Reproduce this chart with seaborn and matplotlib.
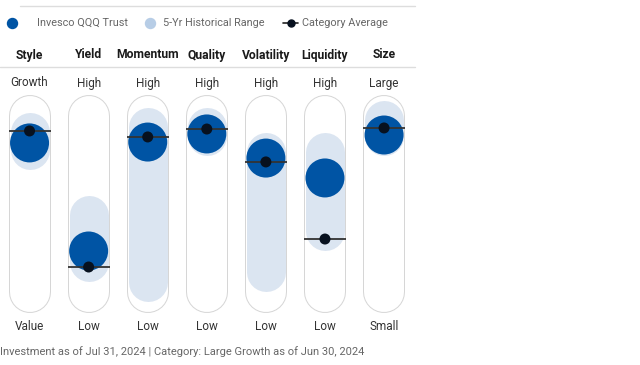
import numpy as np
import pandas as pd
import matplotlib.pyplot as plt
import seaborn as sns

# factor profile values (0 = bottom label, 100 = top label)
factors = ["Style", "Yield", "Momentum", "Quality", "Volatility", "Liquidity", "Size"]
top_labels = ["Growth", "High", "High", "High", "High", "High", "Large"]
bottom_labels = ["Value", "Low", "Low", "Low", "Low", "Low", "Small"]
fund = [84.7, 23.3, 85.2, 89.8, 76.1, 64.8, 89.2]
category = [91.5, 14.2, 88.1, 92.6, 73.9, 30.1, 93.2]
range_low = [80.7, 16.8, 5.4, 88.9, 11.6, 34.9, 88.9]
range_high = [90.9, 44.0, 94.0, 94.0, 79.8, 79.8, 98.0]

df = pd.DataFrame({"factor": factors, "x": range(len(factors)), "fund": fund, "category": category})

sns.set_style("white")
plt.rcParams["font.family"] = ["Roboto", "DejaVu Sans"]

W, H = 640, 365
fig = plt.figure(figsize=(W / 100, H / 100), dpi=100)
pt = 72 / 100  # points per pixel

# axes: x = factor index, y = score (0 at px 292, 100 at px 116)
ax = fig.add_axes([0, (H - 292) / H, 413.6 / W, 176 / H])
ax.set_xlim(-0.5, 6.5)
ax.set_ylim(0, 100)
ax.axis("off")

blue = "#0054a4"
light = "#dbe5f1"
dark = "#07111f"

for i in range(len(factors)):
    # track outline
    ax.plot([i, i], [0, 100], color="#d6d6d6", lw=42 * pt, solid_capstyle="round",
            zorder=1, clip_on=False)
    ax.plot([i, i], [0, 100], color="white", lw=40 * pt, solid_capstyle="round",
            zorder=2, clip_on=False)
    # 5-yr range
    ax.plot([i, i], [range_low[i], range_high[i]], color=light, lw=39 * pt,
            solid_capstyle="round", zorder=3, clip_on=False)

sns.scatterplot(data=df, x="x", y="fund", ax=ax, s=(39 * pt) ** 2, color=blue,
                edgecolor="none", zorder=4, legend=False, clip_on=False)
ax.hlines(category, df["x"] - 0.355, df["x"] + 0.355, color="#333333", lw=1.3, zorder=5)
sns.scatterplot(data=df, x="x", y="category", ax=ax, s=(11 * pt) ** 2, color=dark,
                edgecolor="none", zorder=6, legend=False, clip_on=False)
ax.set_xlabel("")
ax.set_ylabel("")


def yv(px):
    return (292 - px) / 176 * 100


for i in range(len(factors)):
    ax.text(i, yv(55), factors[i], ha="center", va="center", fontsize=8.7,
            fontweight="bold", color="#1a1a1a", clip_on=False)
    ax.text(i, yv(83), top_labels[i], ha="center", va="center", fontsize=8.5,
            color="#333333", clip_on=False)
    ax.text(i, yv(327), bottom_labels[i], ha="center", va="center", fontsize=8.5,
            color="#333333", clip_on=False)


# header lines and legend in figure pixels
def fx(px):
    return px / W


def fy(py):
    return 1 - py / H


fig.add_artist(plt.Line2D([fx(20), fx(415)], [fy(6), fy(6)], color="#dddddd", lw=1))
fig.add_artist(plt.Line2D([fx(0), fx(415)], [fy(67), fy(67)], color="#dddddd", lw=1))

leg_y = fy(23)
fig.add_artist(plt.Line2D([fx(12)], [leg_y], marker="o", ms=10 * pt, color=blue, lw=0))
fig.text(fx(37), leg_y, "Invesco QQQ Trust", va="center", fontsize=7.8, color="#666666")
fig.add_artist(plt.Line2D([fx(150)], [leg_y], marker="o", ms=10 * pt, color="#b7cde6", lw=0))
fig.text(fx(163), leg_y, "5-Yr Historical Range", va="center", fontsize=7.8, color="#666666")
fig.add_artist(plt.Line2D([fx(283), fx(298)], [leg_y, leg_y], color="#222222", lw=1.2))
fig.add_artist(plt.Line2D([fx(290.5)], [leg_y], marker="o", ms=7 * pt, color=dark, lw=0))
fig.text(fx(302), leg_y, "Category Average", va="center", fontsize=7.8, color="#666666")

fig.text(fx(0), fy(352), "Investment as of Jul 31, 2024 | Category: Large Growth as of Jun 30, 2024",
         va="center", fontsize=8.05, color="#666666")

fig.savefig("out.png", dpi=100)
